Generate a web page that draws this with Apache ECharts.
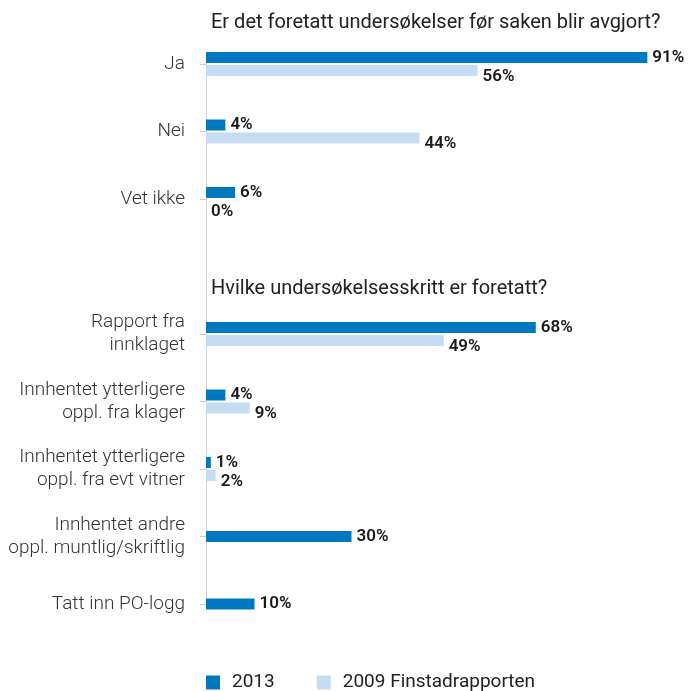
<!DOCTYPE html>
<html>
<head>
<meta charset="utf-8">
<script src="https://cdn.jsdelivr.net/npm/echarts@6/dist/echarts.min.js"></script>
<style>html,body{margin:0;padding:0;background:#fff}#c{width:699px;height:691px}</style>
</head>
<body>
<div id="c"></div>
<script>
const categories = ['Ja', 'Nei', 'Vet ikke', '', 'Rapport fra\ninnklaget', 'Innhentet ytterligere\noppl. fra klager', 'Innhentet ytterligere\noppl. fra evt vitner', 'Innhentet andre\noppl. muntlig/skriftlig', 'Tatt inn PO-logg'];
const values2013 = [91, 4, 6, null, 68, 4, 1, null, null];
const values2009 = [56, 44, 0, null, 49, 9, 2, null, null];
const values2013Only = [null, null, null, null, null, null, null, 30, 10];
const heading1 = 'Er det foretatt undersøkelser før saken blir avgjort?';
const heading2 = 'Hvilke undersøkelsesskritt er foretatt?';
const seriesNames = ['2013', '2009 Finstadrapporten'];

const C2013 = '#0078bf';
const C2009 = '#c6dcf2';
const FONT = 'Roboto, "Noto Sans", sans-serif';

const chart = echarts.init(document.getElementById('c'), null, {renderer: 'canvas'});
const labelStyle = {show: true, position: 'right', distance: 5, formatter: '{c}%', fontFamily: FONT, fontSize: 17, fontWeight: 600, color: '#1a1a1a'};
chart.setOption({
  animation: false,
  textStyle: {fontFamily: FONT},
  title: [
    {text: heading1, left: 206, top: 8, textStyle: {fontFamily: FONT, fontSize: 20, fontWeight: 'normal', color: '#222'}},
    {text: heading2, left: 206, top: 274, textStyle: {fontFamily: FONT, fontSize: 20, fontWeight: 'normal', color: '#222'}}
  ],
  legend: {
    data: seriesNames,
    left: 201, top: 668,
    icon: 'rect', itemWidth: 14, itemHeight: 14, itemGap: 42,
    textStyle: {fontFamily: FONT, fontSize: 19, color: '#222', padding: [0, 0, 0, 7]}
  },
  grid: {left: 206, right: 8, top: 64, bottom: 87, containLabel: false},
  xAxis: {type: 'value', min: 0, max: 100, show: false},
  yAxis: [
    {
      type: 'category', data: categories, inverse: true, boundaryGap: false,
      axisLine: {show: true, lineStyle: {color: '#d6d6d6', width: 1}},
      axisTick: {show: true, length: 6, lineStyle: {color: '#cccccc'}, interval: (i, v) => v !== ''},
      axisLabel: {margin: 21, fontFamily: FONT, fontSize: 19, fontWeight: 300, color: '#333', lineHeight: 23, align: 'right', interval: 0}
    },
    {type: 'category', data: categories, inverse: true, boundaryGap: false, show: false}
  ],
  series: [
    {name: seriesNames[0], type: 'bar', yAxisIndex: 0, data: values2013, barWidth: 11, barGap: '18%', itemStyle: {color: C2013}, label: labelStyle},
    {name: seriesNames[1], type: 'bar', yAxisIndex: 0, data: values2009, barWidth: 11, barGap: '18%', itemStyle: {color: C2009}, label: Object.assign({}, labelStyle, {offset: [0, 6]})},
    {name: seriesNames[0], type: 'bar', yAxisIndex: 1, data: values2013Only, barWidth: 11, itemStyle: {color: C2013}, label: labelStyle}
  ]
});
</script>
</body>
</html>
